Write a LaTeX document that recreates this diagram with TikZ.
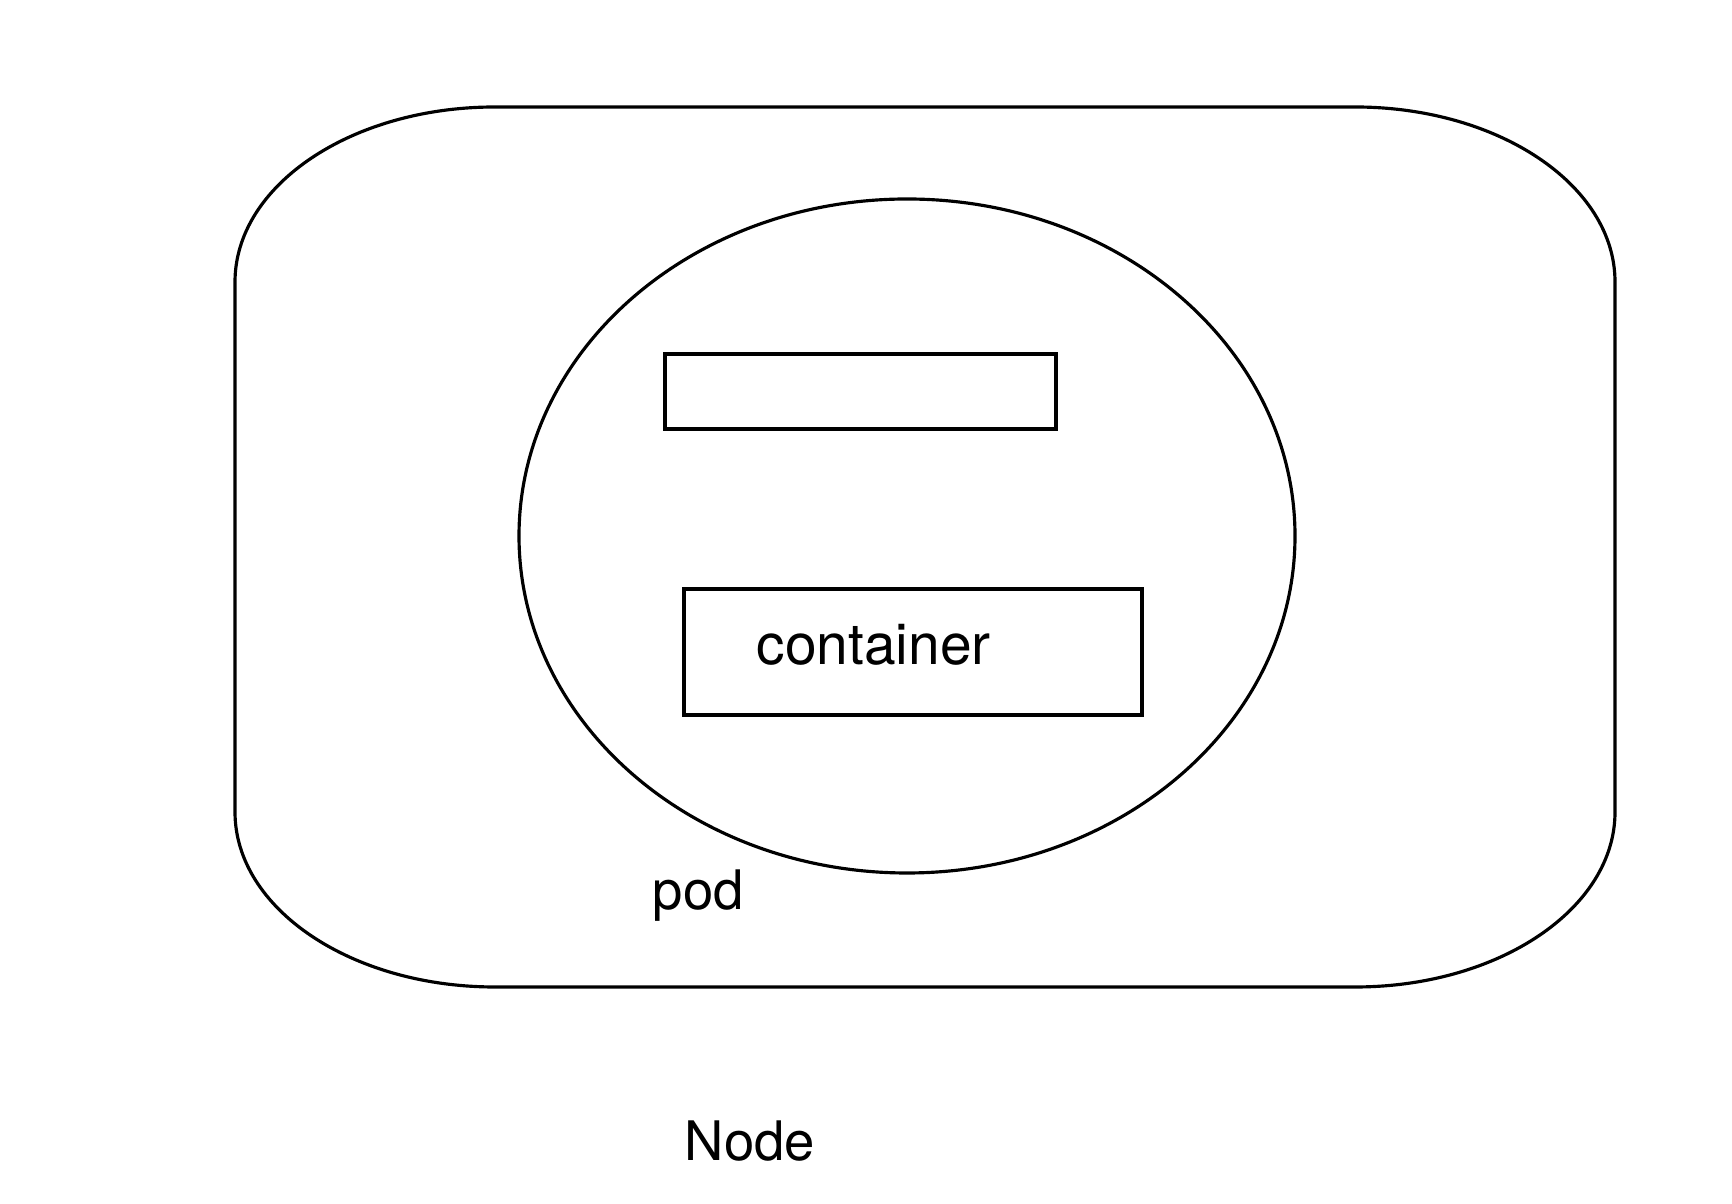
\documentclass[tikz,border=0pt]{standalone}
\usepackage{fontspec}
\setmainfont{TeX Gyre Heros}
\usetikzlibrary{shapes.geometric}
\tikzset{
  >=latex,
  outline/.style={draw,line width=0.9pt},
  boxpart/.style={outline,rectangle,inner sep=0pt},
  tag/.style={anchor=base west,inner sep=0pt,font=\fontsize{15.5}{18}\selectfont}
}

\begin{document}
\begin{tikzpicture}
      \useasboundingbox (0,0) rectangle (17.32,12.04);
      % the Node with its round ends
      \draw[outline] (2.35,3.92) -- (2.35,9.22)
        arc[start angle=180,end angle=90,x radius=2.6cm,y radius=1.75cm]
        -- (13.55,10.97)
        arc[start angle=90,end angle=0,x radius=2.6cm,y radius=1.75cm]
        -- (16.15,3.92)
        arc[start angle=0,end angle=-90,x radius=2.6cm,y radius=1.75cm]
        -- (4.95,2.17)
        arc[start angle=270,end angle=180,x radius=2.6cm,y radius=1.75cm]
        -- cycle;
      \node[outline,ellipse,inner sep=0pt,minimum width=7.76cm,minimum height=6.74cm]
        (pod) at (9.07,6.68) {};
      \node[boxpart,minimum width=3.91cm,minimum height=0.75cm] (upper) at (8.605,8.125) {};
      \node[boxpart,minimum width=4.58cm,minimum height=1.26cm] (lower) at (9.13,5.52) {};
      \node[tag,font=\fontsize{16.2}{19}\selectfont] (containertext) at (7.56,5.39) {container};
      \node[tag] (podtext) at (6.52,2.94) {pod};
      \node[tag] (nodetext) at (6.84,0.43) {Node};
    \end{tikzpicture}
\end{document}
